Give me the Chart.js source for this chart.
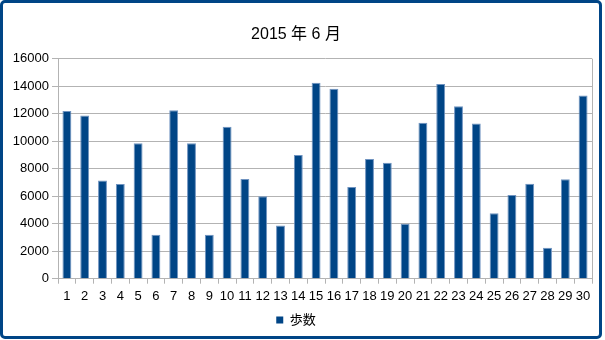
<!DOCTYPE html>
<html>
<head>
<meta charset="utf-8">
<script src="https://cdn.jsdelivr.net/npm/chart.js@4"></script>
<style>
  html, body { margin: 0; padding: 0; background: #fff; }
  #wrap { position: relative; width: 605px; height: 340px; }
  #frame {
    position: absolute; left: 0; top: 0; width: 602px; height: 339px;
    box-sizing: border-box; border: 3px solid #004586; border-radius: 5px;
    pointer-events: none;
  }
</style>
</head>
<body>
<div id="wrap">
  <canvas id="myChart" width="605" height="340"></canvas>
  <div id="frame"></div>
</div>
<script>
// dias do mes e passos
var dias = [];
for (var d = 1; d <= 30; d++) dias.push(String(d));

var passos = [12200, 11870, 7150, 6890, 9860, 3190, 12250, 9860, 3190, 11050,
              7250, 5990, 3870, 8990, 14260, 13820, 6670, 8700, 8430, 3990,
              11340, 14160, 12540, 11290, 4760, 6090, 6910, 2250, 7230, 13320];

var yTicks = [0, 2000, 4000, 6000, 8000, 10000, 12000, 14000, 16000];

var fonte = '"Liberation Sans", "Noto Sans CJK JP", sans-serif';

// linha da direita da area do grafico
var bordaDireita = {
  id: 'bordaDireita',
  afterDraw: function (chart) {
    var a = chart.chartArea, c = chart.ctx;
    c.save();
    c.strokeStyle = '#b3b3b3';
    c.lineWidth = 1;
    c.beginPath();
    c.moveTo(Math.round(a.right) + 0.5, a.top);
    c.lineTo(Math.round(a.right) + 0.5, a.bottom);
    c.stroke();
    c.restore();
  }
};

var ctx = document.getElementById('myChart');
var myChart = new Chart(ctx, {
  type: 'bar',
  data: {
    labels: dias,
    datasets: [{
      label: '歩数',
      data: passos,
      backgroundColor: '#004586',
      borderColor: '#6f93c0',
      borderWidth: 1,
      barPercentage: 0.5,
      categoryPercentage: 1.0
    }]
  },
  options: {
    responsive: false,
    animation: false,
    layout: { padding: { left: 0, right: 13, top: 0, bottom: 3.5 } },
    plugins: {
      title: {
        display: true,
        text: '2015 年 6 月',
        color: '#000',
        font: { family: fonte, size: 16, weight: 'normal' },
        padding: { top: 25, bottom: 14.5 }
      },
      legend: {
        position: 'bottom',
        labels: {
          color: '#000',
          font: { family: fonte, size: 13 },
          boxWidth: 7,
          boxHeight: 7,
          padding: 4.2,
          generateLabels: function (chart) {
            return [{
              text: '歩数',
              fillStyle: '#004586',
              strokeStyle: '#004586',
              lineWidth: 0,
              datasetIndex: 0
            }];
          }
        }
      },
      tooltip: { enabled: false }
    },
    scales: {
      x: {
        grid: {
          drawOnChartArea: false,
          drawTicks: true,
          tickLength: 5,
          color: '#b3b3b3',
          offset: true
        },
        border: { color: '#b3b3b3' },
        ticks: {
          color: '#000',
          font: { family: fonte, size: 13 },
          padding: 5,
          maxRotation: 0,
          autoSkip: false
        }
      },
      y: {
        min: 0,
        max: 16000,
        afterBuildTicks: function (scale) {
          scale.ticks = yTicks.map(function (v) { return { value: v }; });
        },
        afterFit: function (scale) { scale.width = 58; },
        grid: { color: '#b3b3b3', tickLength: 6 },
        border: { color: '#b3b3b3' },
        ticks: {
          color: '#000',
          font: { family: fonte, size: 13 },
          padding: 3,
          callback: function (v) { return String(v); }
        }
      }
    }
  },
  plugins: [bordaDireita]
});
</script>
</body>
</html>
